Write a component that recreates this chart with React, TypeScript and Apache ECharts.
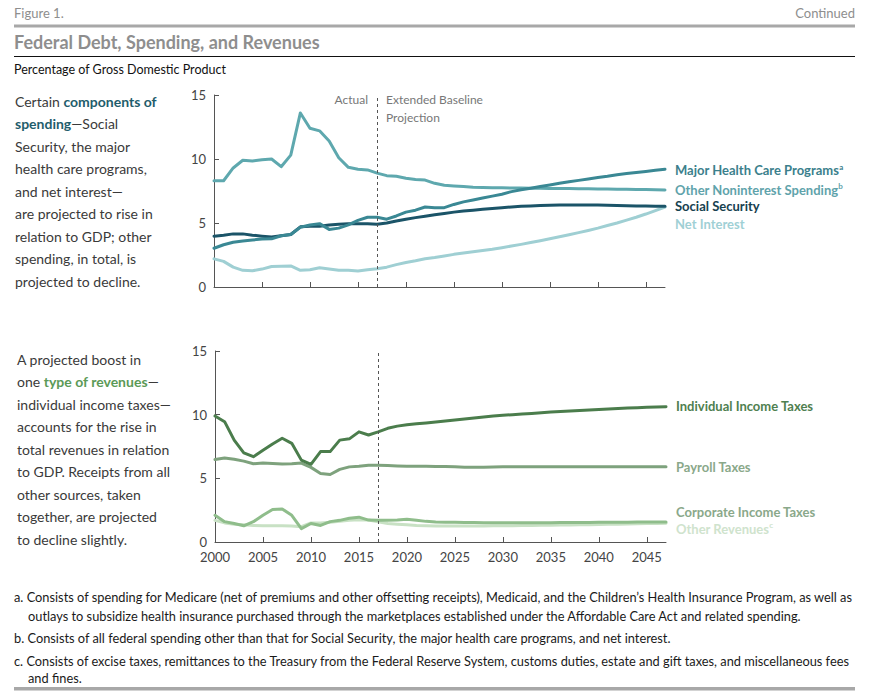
import React, { useEffect, useRef } from "react";
import * as echarts from "echarts";

const years: number[] = [];
for (let y = 2000; y <= 2047; y++) years.push(y);

const tickYears = [2000, 2005, 2010, 2015, 2020, 2025, 2030, 2035, 2040, 2045];
const yTicks = [0, 5, 10, 15];

// Spending components (% of GDP), 2000-2047
const majorHealth = [3.03, 3.3, 3.5, 3.6, 3.67, 3.75, 3.76, 4.0, 4.1, 4.67, 4.85, 4.95, 4.5, 4.6, 4.85, 5.2, 5.45, 5.45, 5.3, 5.55, 5.85, 6.0, 6.25, 6.2, 6.2, 6.45, 6.65, 6.8, 6.95, 7.1, 7.25, 7.45, 7.6, 7.72, 7.85, 7.97, 8.1, 8.22, 8.33, 8.44, 8.55, 8.65, 8.77, 8.86, 8.95, 9.03, 9.12, 9.2];
const otherNoninterest = [8.3, 8.3, 9.3, 9.9, 9.85, 9.95, 10.0, 9.4, 10.3, 13.6, 12.4, 12.2, 11.4, 10.1, 9.35, 9.2, 9.15, 8.9, 8.7, 8.65, 8.5, 8.4, 8.35, 8.1, 7.95, 7.9, 7.85, 7.8, 7.78, 7.76, 7.75, 7.74, 7.73, 7.72, 7.71, 7.7, 7.7, 7.69, 7.68, 7.67, 7.66, 7.65, 7.64, 7.63, 7.62, 7.61, 7.6, 7.58];
const socialSecurity = [3.97, 4.05, 4.15, 4.15, 4.05, 3.97, 3.9, 4.0, 4.1, 4.7, 4.75, 4.75, 4.85, 4.9, 4.95, 4.95, 4.95, 4.9, 5.0, 5.15, 5.3, 5.42, 5.53, 5.65, 5.75, 5.85, 5.93, 6.0, 6.07, 6.13, 6.2, 6.25, 6.3, 6.33, 6.36, 6.38, 6.4, 6.41, 6.41, 6.41, 6.4, 6.38, 6.36, 6.35, 6.33, 6.32, 6.31, 6.3];
const netInterest = [2.2, 2.0, 1.55, 1.3, 1.27, 1.4, 1.6, 1.62, 1.65, 1.3, 1.35, 1.5, 1.4, 1.3, 1.3, 1.25, 1.35, 1.42, 1.55, 1.75, 1.92, 2.05, 2.2, 2.3, 2.42, 2.55, 2.65, 2.75, 2.85, 2.95, 3.07, 3.2, 3.33, 3.47, 3.62, 3.77, 3.92, 4.08, 4.25, 4.42, 4.6, 4.8, 5.0, 5.22, 5.45, 5.7, 5.97, 6.25];

// Revenue types (% of GDP), 2000-2047
const individualIncome = [9.9, 9.45, 8.0, 7.0, 6.7, 7.2, 7.7, 8.15, 7.75, 6.43, 6.1, 7.1, 7.1, 8.0, 8.1, 8.65, 8.4, 8.65, 8.93, 9.1, 9.2, 9.28, 9.35, 9.42, 9.5, 9.58, 9.66, 9.74, 9.82, 9.9, 9.96, 10.0, 10.05, 10.1, 10.15, 10.2, 10.24, 10.28, 10.32, 10.36, 10.4, 10.44, 10.48, 10.52, 10.55, 10.58, 10.61, 10.63];
const payroll = [6.48, 6.6, 6.5, 6.35, 6.15, 6.2, 6.17, 6.12, 6.15, 6.2, 5.86, 5.38, 5.3, 5.7, 5.9, 5.95, 6.03, 6.03, 6.0, 5.97, 5.95, 5.95, 5.94, 5.93, 5.92, 5.9, 5.88, 5.87, 5.88, 5.89, 5.9, 5.9, 5.9, 5.9, 5.9, 5.9, 5.9, 5.9, 5.9, 5.9, 5.9, 5.9, 5.9, 5.9, 5.9, 5.9, 5.9, 5.9];
const corporate = [2.1, 1.6, 1.45, 1.27, 1.6, 2.1, 2.55, 2.6, 2.1, 1.05, 1.45, 1.3, 1.6, 1.7, 1.87, 1.95, 1.72, 1.7, 1.7, 1.72, 1.78, 1.7, 1.62, 1.58, 1.56, 1.55, 1.54, 1.53, 1.52, 1.52, 1.52, 1.52, 1.52, 1.52, 1.52, 1.52, 1.53, 1.53, 1.54, 1.54, 1.55, 1.55, 1.56, 1.56, 1.57, 1.57, 1.58, 1.58];
const otherRevenues = [1.7, 1.5, 1.4, 1.35, 1.3, 1.28, 1.28, 1.27, 1.25, 1.2, 1.5, 1.5, 1.55, 1.62, 1.7, 1.75, 1.72, 1.58, 1.45, 1.4, 1.35, 1.3, 1.27, 1.25, 1.25, 1.25, 1.25, 1.26, 1.26, 1.27, 1.27, 1.28, 1.29, 1.3, 1.31, 1.32, 1.33, 1.34, 1.35, 1.36, 1.38, 1.39, 1.4, 1.42, 1.43, 1.45, 1.46, 1.48];

const projectionStart = 2017;

const FONT = "Lato, 'Noto Sans', sans-serif";

const topParagraph = [
  "Certain {b|components of}",
  "{b|spending}—Social",
  "Security, the major",
  "health care programs,",
  "and net interest—",
  "are projected to rise in",
  "relation to GDP; other",
  "spending, in total, is",
  "projected to decline.",
];
const bottomParagraph = [
  "A projected boost in",
  "one {g|type of revenues}—",
  "individual income taxes—",
  "accounts for the rise in",
  "total revenues in relation",
  "to GDP. Receipts from all",
  "other sources, taken",
  "together, are projected",
  "to decline slightly.",
];
const footnotes = [
  { x: 14, y: 597, t: "a. Consists of spending for Medicare (net of premiums and other offsetting receipts), Medicaid, and the Children’s Health Insurance Program, as well as" },
  { x: 28, y: 616, t: "outlays to subsidize health insurance purchased through the marketplaces established under the Affordable Care Act and related spending." },
  { x: 14, y: 638, t: "b. Consists of all federal spending other than that for Social Security, the major health care programs, and net interest." },
  { x: 14, y: 661, t: "c. Consists of excise taxes, remittances to the Treasury from the Federal Reserve System, customs duties, estate and gift taxes, and miscellaneous fees" },
  { x: 28, y: 678, t: "and fines." },
];

function pairs(vals: number[]) {
  return years.map((y, i) => [y, vals[i]]);
}

function lineSeries(name: string, vals: number[], color: string, idx: number, label: string, labelColor: string, dy: number, sup?: string, markLine?: boolean) {
  const s: any = {
    name,
    type: "line",
    xAxisIndex: idx,
    yAxisIndex: idx,
    data: pairs(vals),
    showSymbol: false,
    symbol: "none",
    lineStyle: { color, width: 3, cap: "round", join: "round" },
    itemStyle: { color },
    silent: true,
    endLabel: {
      show: true,
      distance: 10,
      offset: [0, dy],
      formatter: () => (sup ? `{t|${label}}{s|${sup}}` : `{t|${label}}`),
      rich: {
        t: { fontFamily: FONT, fontWeight: "bold", fontSize: 13, color: labelColor, lineHeight: 15 },
        s: { fontFamily: FONT, fontWeight: "bold", fontSize: 8, color: labelColor, lineHeight: 8, verticalAlign: "top" },
      },
    },
  };
  if (markLine) {
    s.markLine = {
      silent: true,
      symbol: ["none", "none"],
      label: { show: false },
      lineStyle: { type: [3, 3], color: "#555", width: 1 },
      data: [{ xAxis: projectionStart }],
    };
  }
  return s;
}

export default function App() {
  const ref = useRef<HTMLDivElement>(null);
  useEffect(() => {
    document.body.style.margin = "0";
    const chart = echarts.init(ref.current!, undefined, { renderer: "svg" });

    const xAxisBase = (idx: number, showLabels: boolean) => ({
      type: "value",
      gridIndex: idx,
      min: 2000,
      max: 2047,
      interval: 5,
      axisLine: { show: true, lineStyle: { color: "#555", width: 1 } },
      axisTick: { show: true, inside: true, length: 5, lineStyle: { color: "#555" }, customValues: tickYears },
      axisLabel: {
        show: showLabels,
        customValues: tickYears,
        formatter: (v: number) => String(v),
        color: "#444",
        fontFamily: FONT,
        fontSize: 13,
        margin: 8,
      },
      splitLine: { show: false },
    });
    const yAxisBase = (idx: number) => ({
      type: "value",
      gridIndex: idx,
      min: 0,
      max: 15,
      interval: 5,
      axisLine: { show: true, lineStyle: { color: "#555", width: 1 } },
      axisTick: { show: true, inside: true, length: 5, lineStyle: { color: "#555" }, customValues: yTicks },
      axisLabel: { color: "#444", fontFamily: FONT, fontSize: 13, margin: 8, customValues: yTicks },
      splitLine: { show: false },
    });

    const graphics: any[] = [
      { type: "text", x: 14, y: 13, style: { text: "Figure 1.", font: `13px ${FONT}`, fill: "#8e8e8e", verticalAlign: "middle" } },
      { type: "text", x: 855, y: 13, style: { text: "Continued", font: `13px ${FONT}`, fill: "#8e8e8e", align: "right", verticalAlign: "middle" } },
      { type: "rect", shape: { x: 14, y: 24.5, width: 841, height: 3 }, style: { fill: "#a8a8a8" } },
      { type: "text", x: 14, y: 42, style: { text: "Federal Debt, Spending, and Revenues", font: `bold 18px ${FONT}`, fill: "#8e8e8e", verticalAlign: "middle" } },
      { type: "line", shape: { x1: 14, y1: 56.5, x2: 855, y2: 56.5 }, style: { stroke: "#111", lineWidth: 1.2 } },
      { type: "text", x: 14, y: 69, style: { text: "Percentage of Gross Domestic Product", font: `12.5px ${FONT}`, fill: "#111", verticalAlign: "middle" } },
      { type: "text", x: 368, y: 99, style: { text: "Actual", font: `12px ${FONT}`, fill: "#777", align: "right", verticalAlign: "middle" } },
      { type: "text", x: 386, y: 99, style: { text: "Extended Baseline", font: `12px ${FONT}`, fill: "#777", verticalAlign: "middle" } },
      { type: "text", x: 386, y: 117.5, style: { text: "Projection", font: `12px ${FONT}`, fill: "#777", verticalAlign: "middle" } },
      { type: "rect", shape: { x: 14, y: 687, width: 841, height: 3.5 }, style: { fill: "#a8a8a8" } },
    ];
    topParagraph.forEach((t, i) => {
      graphics.push({
        type: "text", x: 15, y: 101.5 + i * 22.45,
        style: { text: t, font: `14px ${FONT}`, fill: "#3a3a3a", verticalAlign: "middle", rich: { b: { fontWeight: "bold", fill: "#1f5d6c", fontSize: 14, fontFamily: FONT } } },
      });
    });
    bottomParagraph.forEach((t, i) => {
      graphics.push({
        type: "text", x: 17, y: 359.5 + i * 22.45,
        style: { text: t, font: `14px ${FONT}`, fill: "#3a3a3a", verticalAlign: "middle", rich: { g: { fontWeight: "bold", fill: "#5b9a57", fontSize: 14, fontFamily: FONT } } },
      });
    });
    footnotes.forEach((f) => {
      graphics.push({ type: "text", x: f.x, y: f.y, style: { text: f.t, font: `12.8px ${FONT}`, fill: "#1a1a1a", verticalAlign: "middle" } });
    });

    chart.setOption({
      animation: false,
      backgroundColor: "#ffffff",
      grid: [
        { left: 214, top: 95, width: 451, height: 192 },
        { left: 215, top: 351, width: 451, height: 191 },
      ],
      xAxis: [xAxisBase(0, false), xAxisBase(1, true)],
      yAxis: [yAxisBase(0), yAxisBase(1)],
      graphic: graphics,
      series: [
        lineSeries("Net Interest", netInterest, "#9fcfd3", 0, "Net Interest", "#9fd0d5", 17, undefined, true),
        lineSeries("Social Security", socialSecurity, "#1b5468", 0, "Social Security", "#17414f", 0),
        lineSeries("Other Noninterest Spending", otherNoninterest, "#5ea8ae", 0, "Other Noninterest Spending", "#5fa3ab", 0, "b"),
        lineSeries("Major Health Care Programs", majorHealth, "#3a8894", 0, "Major Health Care Programs", "#3b808c", 1, "a"),
        lineSeries("Other Revenues", otherRevenues, "#c8e1c4", 1, "Other Revenues", "#cfe3cd", 5.5, "c", true),
        lineSeries("Corporate Income Taxes", corporate, "#8fbd8b", 1, "Corporate Income Taxes", "#8aa88a", -10),
        lineSeries("Payroll Taxes", payroll, "#7ea27d", 1, "Payroll Taxes", "#8aa88a", 0),
        lineSeries("Individual Income Taxes", individualIncome, "#4b7d4c", 1, "Individual Income Taxes", "#4f8050", -1),
      ],
    });
    return () => chart.dispose();
  }, []);
  return <div ref={ref} style={{ width: 873, height: 695 }} />;
}
